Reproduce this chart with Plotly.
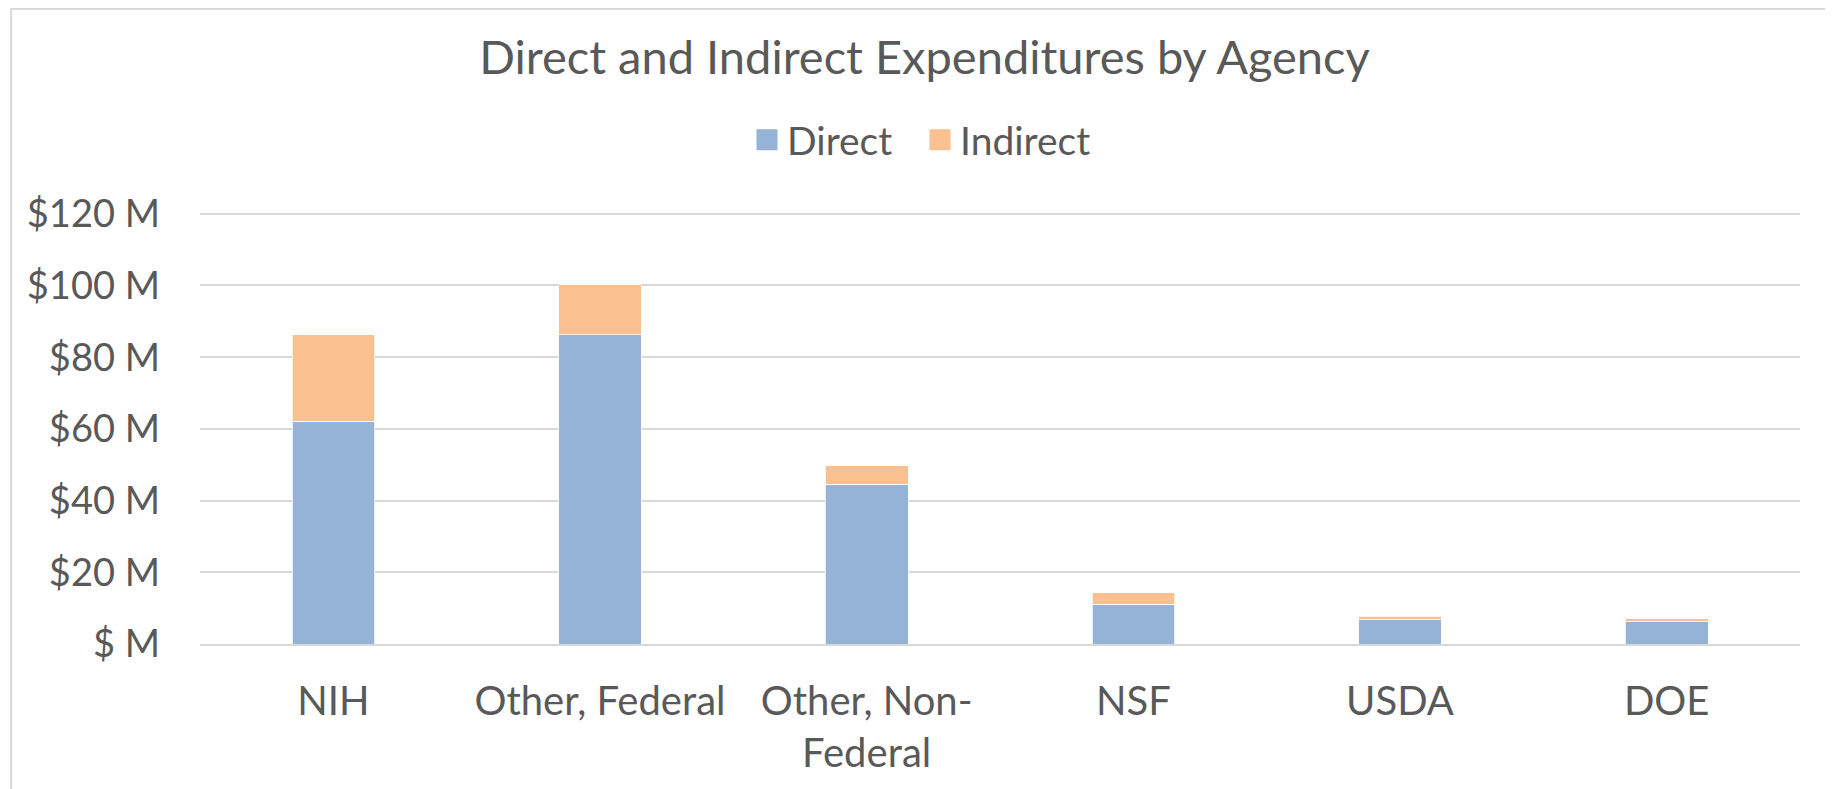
import plotly.graph_objects as go

categories = ["NIH", "Other, Federal", "Other, Non-<br>Federal", "NSF", "USDA", "DOE"]
direct = [62.2, 86.3, 44.6, 11.1, 6.8, 6.2]
indirect = [24.0, 13.9, 5.1, 3.2, 1.0, 0.8]
y_tickvals = [0, 20, 40, 60, 80, 100, 120]
y_ticktext = ["$ M", "$20 M", "$40 M", "$60 M", "$80 M", "$100 M", "$120 M"]

FONT = "Lato, Open Sans, sans-serif"
TXT = "#595959"
BLUE = "#95B3D7"
ORANGE = "#FAC090"

fig = go.Figure()
fig.add_trace(go.Bar(x=categories, y=direct, name="Direct", showlegend=False,
                     legendgroup="d",
                     marker=dict(color=BLUE, line=dict(color="white", width=0.75))))
fig.add_trace(go.Bar(x=categories, y=indirect, name="Indirect", showlegend=False,
                     legendgroup="i",
                     marker=dict(color=ORANGE, line=dict(color="white", width=0.75))))
# legend entries with larger square swatches
fig.add_trace(go.Scatter(x=[None], y=[None], mode="markers", name="Direct",
                         legendgroup="d",
                         marker=dict(symbol="square", size=16, color=BLUE,
                                     line=dict(color=BLUE, width=5))))
fig.add_trace(go.Scatter(x=[None], y=[None], mode="markers", name="Indirect",
                         legendgroup="i",
                         marker=dict(symbol="square", size=16, color=ORANGE,
                                     line=dict(color=ORANGE, width=5))))

fig.update_layout(
    width=1833, height=789,
    barmode="stack", bargap=0.69,
    paper_bgcolor="white", plot_bgcolor="white",
    margin=dict(l=192, r=41, t=204, b=153, autoexpand=False),
    font=dict(family=FONT, color=TXT, size=38),
    title=dict(text="Direct and Indirect Expenditures by Agency",
               x=0.5, xref="container", xanchor="center",
               y=1 - 50 / 789, yref="container", yanchor="middle",
               font=dict(family=FONT, size=47, color=TXT)),
    legend=dict(orientation="h", x=(739 - 192) / 1600, xanchor="left",
                y=(636 - 132) / 432, yanchor="middle", traceorder="normal",
                font=dict(family=FONT, size=39, color=TXT),
                itemwidth=30, entrywidth=128, entrywidthmode="pixels",
                bgcolor="rgba(0,0,0,0)"),
    showlegend=True,
    shapes=[dict(type="rect", xref="paper", yref="paper",
                 x0=-0.118, x1=1.017, y0=-0.5, y1=1.47,
                 line=dict(color="#D9D9D9", width=2), layer="below")],
)
fig.update_yaxes(range=[0, 120.5], tickvals=y_tickvals, ticktext=y_ticktext,
                 showgrid=True, gridcolor="#D9D9D9", gridwidth=2,
                 zeroline=False, showline=False, ticks="",
                 ticklabelstandoff=39,
                 tickfont=dict(family=FONT, size=38, color=TXT))
fig.update_xaxes(showline=True, linecolor="#D9D9D9", linewidth=2, ticks="",
                 ticklabelstandoff=21, showgrid=False,
                 tickfont=dict(family=FONT, size=40, color=TXT), tickangle=0)

fig.write_html("out.html")
